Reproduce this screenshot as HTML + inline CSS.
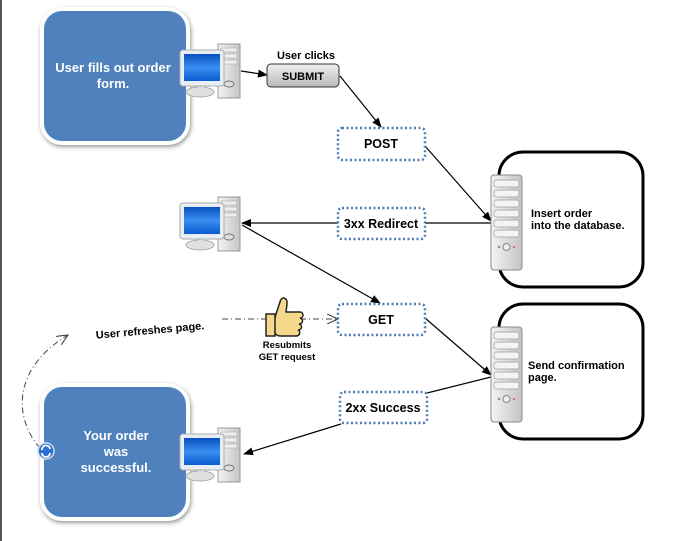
<!DOCTYPE html>
<html><head><meta charset="utf-8"><style>
body{margin:0;background:#fff;}
svg{display:block;font-family:"Liberation Sans",sans-serif;font-weight:bold;}
</style></head><body>
<svg width="675" height="541" viewBox="0 0 675 541" xmlns="http://www.w3.org/2000/svg">
<defs>
<marker id="a" markerWidth="10" markerHeight="8" refX="9" refY="4" orient="auto" markerUnits="userSpaceOnUse"><path d="M0,0 L10,4 L0,8 Z" fill="#000"/></marker>
<marker id="o" markerWidth="12" markerHeight="10" refX="11" refY="5" orient="auto" markerUnits="userSpaceOnUse"><path d="M0,0 L11,5 L0,10" fill="none" stroke="#333"/></marker>
<linearGradient id="scr" x1="0" y1="0" x2="0" y2="1"><stop offset="0" stop-color="#0a4fc0"/><stop offset="0.5" stop-color="#3a8ef0"/><stop offset="1" stop-color="#0a5bd0"/></linearGradient>
<linearGradient id="tw" x1="0" y1="0" x2="1" y2="0"><stop offset="0" stop-color="#f4f4f4"/><stop offset="1" stop-color="#c4c4c4"/></linearGradient>
<linearGradient id="btn" x1="0" y1="0" x2="0" y2="1"><stop offset="0" stop-color="#f0f0f0"/><stop offset="1" stop-color="#b8b8b8"/></linearGradient>
<g id="pc">
<rect x="38" y="0" width="22" height="54" fill="url(#tw)" stroke="#999"/>
<rect x="41" y="4" width="16" height="4" fill="#eee" stroke="#aaa" stroke-width=".6"/>
<rect x="41" y="10" width="16" height="4" fill="#eee" stroke="#aaa" stroke-width=".6"/>
<rect x="41" y="16" width="16" height="4" fill="#eee" stroke="#aaa" stroke-width=".6"/>
<ellipse cx="49" cy="40" rx="5" ry="3" fill="#ddd" stroke="#777"/>
<ellipse cx="20" cy="48" rx="14" ry="5" fill="#e0e0e0" stroke="#aaa"/>
<rect x="18" y="36" width="6" height="10" fill="#ddd"/>
<rect x="0" y="6" width="44" height="36" rx="3" fill="#e8eef5" stroke="#aaa"/>
<rect x="4" y="10" width="36" height="27" fill="url(#scr)"/>
</g>
<g id="srv">
<rect x="0" y="0" width="31" height="95" rx="3" fill="url(#tw)" stroke="#888"/>
<rect x="3" y="5" width="25" height="7" rx="2" fill="#f4f4f4" stroke="#999" stroke-width=".7"/>
<rect x="3" y="15" width="25" height="7" rx="2" fill="#f4f4f4" stroke="#999" stroke-width=".7"/>
<rect x="3" y="25" width="25" height="7" rx="2" fill="#f4f4f4" stroke="#999" stroke-width=".7"/>
<rect x="3" y="35" width="25" height="7" rx="2" fill="#f4f4f4" stroke="#999" stroke-width=".7"/>
<rect x="3" y="45" width="25" height="7" rx="2" fill="#f4f4f4" stroke="#999" stroke-width=".7"/>
<rect x="3" y="55" width="25" height="7" rx="2" fill="#f4f4f4" stroke="#999" stroke-width=".7"/>
<circle cx="15.5" cy="72" r="3.5" fill="#eee" stroke="#888"/>
<circle cx="8" cy="72" r="1.2" fill="#6a6"/><circle cx="23" cy="72" r="1.2" fill="#c77"/>
</g>
</defs>
<line x1="1" y1="0" x2="1" y2="541" stroke="#555" stroke-width="2"/>

<rect x="42" y="9" width="146" height="134" rx="20" fill="#4f81bd" stroke="#fff" stroke-width="4" style="filter:drop-shadow(1px 2px 2px #999)"/>
<text x="113" y="72" fill="#fff" font-size="13" text-anchor="middle">User fills out order</text>
<text x="113" y="88" fill="#fff" font-size="13" text-anchor="middle">form.</text>
<rect x="42" y="385" width="146" height="134" rx="20" fill="#4f81bd" stroke="#fff" stroke-width="4" style="filter:drop-shadow(1px 2px 2px #999)"/>
<text x="116" y="440" fill="#fff" font-size="13" text-anchor="middle">Your order</text>
<text x="116" y="456" fill="#fff" font-size="13" text-anchor="middle">was</text>
<text x="116" y="472" fill="#fff" font-size="13" text-anchor="middle">successful.</text>

<rect x="499" y="152" width="144" height="135" rx="24" fill="#fff" stroke="#000" stroke-width="3"/>
<rect x="499" y="304" width="144" height="135" rx="24" fill="#fff" stroke="#000" stroke-width="3"/>
<text x="531" y="217" font-size="11">Insert order</text>
<text x="531" y="229" font-size="11">into the database.</text>
<text x="528" y="369" font-size="11">Send confirmation</text>
<text x="528" y="381" font-size="11">page.</text>

<g stroke="#000" stroke-width="1.2" fill="none">
<line x1="241" y1="71" x2="267" y2="75" marker-end="url(#a)"/>
<line x1="340" y1="76" x2="381" y2="127" marker-end="url(#a)"/>
<line x1="425" y1="146" x2="491" y2="221" marker-end="url(#a)"/>
<line x1="491" y1="223" x2="425" y2="223"/>
<line x1="338" y1="223" x2="242" y2="223" marker-end="url(#a)"/>
<line x1="242" y1="225" x2="380" y2="303" marker-end="url(#a)"/>
<line x1="425" y1="318" x2="491" y2="375" marker-end="url(#a)"/>
<line x1="491" y1="377" x2="427" y2="393"/>
<line x1="341" y1="424" x2="244" y2="454" marker-end="url(#a)"/>
</g>
<g stroke="#444" stroke-width="1" fill="none" stroke-dasharray="6,3,1,3">
<line x1="222" y1="319" x2="338" y2="319" marker-end="url(#o)"/>
<path d="M40,448 C15,420 10,370 68,335" marker-end="url(#o)"/>
</g>

<use href="#pc" x="180" y="44"/>
<use href="#pc" x="180" y="197"/>
<use href="#pc" x="180" y="428"/>
<use href="#srv" x="491" y="175"/>
<use href="#srv" x="491" y="327"/>

<text x="306" y="59" font-size="11" text-anchor="middle">User clicks</text>
<rect x="267" y="64" width="72" height="23" rx="4" fill="url(#btn)" stroke="#333"/>
<text x="303" y="80" font-size="11" text-anchor="middle">SUBMIT</text>

<g fill="#fff" stroke="#4f7db5" stroke-width="2.5" stroke-dasharray="2,2.5">
<rect x="338" y="128" width="87" height="32" rx="4"/>
<rect x="338" y="208" width="87" height="31" rx="4"/>
<rect x="338" y="304" width="87" height="31" rx="4"/>
<rect x="340" y="392" width="87" height="31" rx="4"/>
</g>
<g font-size="12.5" text-anchor="middle">
<text x="381" y="148">POST</text>
<text x="381" y="228">3xx Redirect</text>
<text x="381" y="324">GET</text>
<text x="383" y="412">2xx Success</text>
</g>

<g transform="translate(266,296)">
<path d="M10,18 L14,6 C15,0 22,1 21,8 L20,16 L34,16 C38,16 38,22 34,22 C38,23 37,28 33,28 C37,29 36,34 32,34 C35,35 34,40 30,40 L14,40 C10,40 8,36 6,34 Z" fill="#f5d88a" stroke="#222" stroke-width="1.5"/>
<rect x="0" y="18" width="9" height="22" fill="#f5d88a" stroke="#222" stroke-width="1.5"/>
</g>
<text x="287" y="348" font-size="9.5" text-anchor="middle">Resubmits</text>
<text x="287" y="360" font-size="9.5" text-anchor="middle">GET request</text>
<text x="150" y="334" font-size="11" text-anchor="middle" transform="rotate(-5 150 330)">User refreshes page.</text>

<circle cx="46" cy="451" r="8" fill="#2f6fd0" stroke="#cde" stroke-width="1.5"/>
<path d="M42,450 A4,4 0 0 1 50,449 M50,453 A4,4 0 0 1 42,453" fill="none" stroke="#fff" stroke-width="1.8"/>
</svg>
</body></html>
